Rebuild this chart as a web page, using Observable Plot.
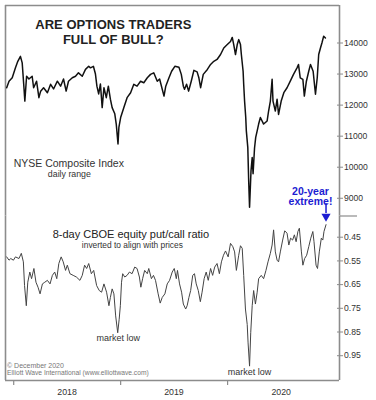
<!DOCTYPE html>
<html><head><meta charset="utf-8">
<script src="https://cdn.jsdelivr.net/npm/d3@7"></script>
<script src="https://cdn.jsdelivr.net/npm/@observablehq/plot@0.6"></script>
<style>
body{margin:0;background:#fff}
#chart{position:relative;width:376px;height:400px;overflow:hidden;background:#fff}
#chart svg{position:absolute;left:0;top:0}
</style></head><body><div id="chart"></div>
<script>
// NYSE Composite Index (approximate daily-range path)
const nyseDates = ["2017-12-08","2017-12-16","2017-12-27","2018-01-07","2018-01-15","2018-01-24","2018-01-30","2018-02-05","2018-02-08","2018-02-14","2018-02-22","2018-03-05","2018-03-10","2018-03-20","2018-03-28","2018-04-03","2018-04-13","2018-04-26","2018-05-07","2018-05-17","2018-05-30","2018-06-10","2018-06-20","2018-06-29","2018-07-07","2018-07-20","2018-07-31","2018-08-10","2018-08-23","2018-09-03","2018-09-14","2018-09-20","2018-09-30","2018-10-07","2018-10-12","2018-10-18","2018-10-24","2018-10-30","2018-11-05","2018-11-13","2018-11-20","2018-11-27","2018-12-03","2018-12-12","2018-12-17","2018-12-23","2018-12-26","2019-01-01","2019-01-12","2019-01-23","2019-02-04","2019-02-15","2019-02-26","2019-03-10","2019-03-21","2019-04-02","2019-04-13","2019-04-24","2019-05-06","2019-05-14","2019-05-23","2019-05-29","2019-06-04","2019-06-15","2019-06-24","2019-07-05","2019-07-19","2019-07-27","2019-08-03","2019-08-07","2019-08-14","2019-08-21","2019-08-30","2019-09-08","2019-09-19","2019-09-25","2019-10-01","2019-10-10","2019-10-24","2019-11-04","2019-11-15","2019-11-26","2019-12-08","2019-12-19","2019-12-31","2020-01-11","2020-01-17","2020-01-22","2020-01-28","2020-02-03","2020-02-08","2020-02-14","2020-02-17","2020-02-23","2020-02-25","2020-02-28","2020-03-03","2020-03-05","2020-03-10","2020-03-13","2020-03-16","2020-03-21","2020-03-25","2020-03-28","2020-04-02","2020-04-06","2020-04-11","2020-04-16","2020-04-22","2020-05-03","2020-05-15","2020-05-20","2020-05-26","2020-06-01","2020-06-04","2020-06-12","2020-06-18","2020-06-23","2020-07-02","2020-07-11","2020-07-22","2020-08-02","2020-08-13","2020-08-25","2020-08-30","2020-09-05","2020-09-14","2020-09-19","2020-09-26","2020-10-04","2020-10-10","2020-10-19","2020-10-27","2020-11-02","2020-11-07","2020-11-13","2020-11-18","2020-11-24","2020-11-30"];
const nyseValues = [12560,12770,12880,13200,13410,13570,13360,12560,12130,12930,12840,12930,12560,12770,12240,12450,12560,12400,12670,12520,12770,12610,12840,12450,12770,12880,12930,13040,12930,13150,13250,13200,13250,13000,12610,12360,12680,11920,12560,12240,12610,12190,11920,11720,11390,10750,11280,11600,11920,12240,12400,12670,12610,12770,12720,12880,12990,13040,12770,12840,12510,12290,12610,12880,13090,13250,13220,12990,12610,12510,12670,12450,12770,13120,13070,12880,12560,12990,13150,13310,13410,13470,13630,13840,13950,14050,14180,13950,13630,13950,14110,13950,13630,13090,12670,12130,11600,11170,10640,9570,8710,9890,10310,9790,10620,10960,11170,11390,11600,11390,11490,11810,12130,12830,12130,11810,12190,11700,12130,12400,12560,12770,12990,13200,13310,12880,12830,12290,12770,13090,13310,13090,12350,12880,13630,13840,14000,14220,14160];

// 8-day CBOE equity put/call ratio (inverted axis)
const ratioDates = ["2017-12-08","2017-12-16","2017-12-22","2017-12-31","2018-01-07","2018-01-19","2018-01-27","2018-02-03","2018-02-07","2018-02-13","2018-02-18","2018-02-25","2018-03-03","2018-03-11","2018-03-18","2018-03-25","2018-04-01","2018-04-09","2018-04-17","2018-04-26","2018-05-05","2018-05-13","2018-05-21","2018-05-28","2018-06-04","2018-06-12","2018-06-19","2018-06-27","2018-07-03","2018-07-12","2018-07-23","2018-08-03","2018-08-15","2018-08-23","2018-08-31","2018-09-07","2018-09-14","2018-09-23","2018-10-01","2018-10-11","2018-10-20","2018-10-28","2018-11-05","2018-11-14","2018-11-22","2018-11-27","2018-12-03","2018-12-09","2018-12-15","2018-12-22","2018-12-27","2018-12-31","2019-01-04","2019-01-08","2019-01-15","2019-01-23","2019-01-31","2019-02-09","2019-02-18","2019-02-26","2019-03-06","2019-03-11","2019-03-17","2019-03-24","2019-04-02","2019-04-07","2019-04-16","2019-04-23","2019-04-30","2019-05-09","2019-05-16","2019-05-23","2019-06-01","2019-06-09","2019-06-17","2019-06-26","2019-07-03","2019-07-10","2019-07-14","2019-07-21","2019-07-28","2019-08-03","2019-08-11","2019-08-16","2019-08-22","2019-08-28","2019-09-04","2019-09-10","2019-09-16","2019-09-23","2019-09-30","2019-10-06","2019-10-13","2019-10-20","2019-10-27","2019-11-04","2019-11-11","2019-11-18","2019-11-26","2019-12-04","2019-12-11","2019-12-18","2019-12-25","2020-01-03","2020-01-11","2020-01-19","2020-01-25","2020-01-31","2020-02-08","2020-02-14","2020-02-20","2020-02-25","2020-03-02","2020-03-08","2020-03-11","2020-03-16","2020-03-20","2020-03-25","2020-03-30","2020-04-05","2020-04-11","2020-04-16","2020-04-25","2020-05-03","2020-05-11","2020-05-18","2020-05-26","2020-06-01","2020-06-06","2020-06-12","2020-06-18","2020-06-23","2020-06-29","2020-07-07","2020-07-14","2020-07-22","2020-07-28","2020-08-03","2020-08-10","2020-08-16","2020-08-22","2020-08-28","2020-09-02","2020-09-09","2020-09-14","2020-09-20","2020-09-27","2020-10-04","2020-10-11","2020-10-18","2020-10-22","2020-10-29","2020-11-03","2020-11-09","2020-11-16","2020-11-21","2020-11-25","2020-12-02"];
const ratioValues = [0.533,0.547,0.540,0.547,0.533,0.540,0.518,0.554,0.654,0.739,0.640,0.597,0.625,0.582,0.640,0.661,0.689,0.647,0.640,0.632,0.647,0.611,0.597,0.625,0.561,0.533,0.554,0.590,0.568,0.604,0.611,0.618,0.632,0.611,0.568,0.582,0.561,0.604,0.590,0.654,0.675,0.682,0.647,0.682,0.739,0.704,0.668,0.689,0.782,0.853,0.796,0.739,0.640,0.604,0.618,0.611,0.597,0.604,0.576,0.582,0.618,0.661,0.625,0.590,0.604,0.582,0.625,0.611,0.632,0.689,0.728,0.704,0.689,0.647,0.632,0.597,0.582,0.625,0.590,0.647,0.682,0.732,0.753,0.739,0.704,0.675,0.611,0.604,0.647,0.675,0.722,0.682,0.625,0.597,0.632,0.582,0.611,0.576,0.561,0.604,0.554,0.526,0.508,0.533,0.476,0.490,0.512,0.590,0.526,0.486,0.497,0.611,0.753,0.818,0.896,0.994,0.853,0.739,0.675,0.732,0.682,0.625,0.611,0.625,0.590,0.554,0.518,0.483,0.419,0.512,0.547,0.554,0.512,0.462,0.423,0.433,0.483,0.454,0.462,0.440,0.469,0.426,0.412,0.512,0.568,0.540,0.526,0.490,0.454,0.426,0.469,0.568,0.582,0.512,0.454,0.462,0.426,0.397];

const nyseTicks = [9000, 10000, 11000, 12000, 13000, 14000];
const ratioTicks = [0.45, 0.55, 0.65, 0.75, 0.85, 0.95];
const yearTicks = ["2018-01-01", "2019-01-01", "2020-01-01"];
const yearLabelDates = ["2018-07-02", "2019-07-02", "2020-07-02"];
const xDomainDates = ["2017-12-04", "2021-01-17"];
const nyseDomain = [8429, 15208];
const ratioDomain = [0.3605, 1.0546];

const parse = d3.utcParse("%Y-%m-%d");
const nyse = nyseDates.map((d, i) => ({date: parse(d), value: nyseValues[i]}));
const ratio = ratioDates.map((d, i) => ({date: parse(d), value: ratioValues[i]}));
const xDomain = xDomainDates.map(parse);
const lastPoint = ratio[ratio.length - 1];

const font = "'Liberation Sans', Arial, Helvetica, sans-serif";
const frameColor = "#8c8c8c";
const blue = "#1c1cd2";
const W = 376, H = 400;
const base = {
  width: W, height: H, marginLeft: 5, marginRight: 37,
  style: {fontFamily: font, fontSize: "9px", background: "transparent", overflow: "visible", color: "#333"},
  x: {type: "utc", domain: xDomain, label: null}
};
const pt = (d, v) => [{date: parse(d), value: v}];

const topPlot = Plot.plot({
  ...base,
  marginTop: 5, marginBottom: H - 215.5,
  x: {...base.x, axis: null},
  y: {domain: nyseDomain, label: null},
  marks: [
    Plot.ruleY([nyseDomain[1]], {stroke: frameColor, strokeWidth: 1.6}),
    Plot.ruleX(xDomain, {stroke: frameColor, strokeWidth: 1.6}),
    Plot.axisY({ticks: nyseTicks, anchor: "right", tickSize: 3, tickPadding: 1.5, tickFormat: "d", stroke: frameColor, fill: "#333", fontSize: 8.6, label: null}),
    Plot.axisY({ticks: nyseTicks, anchor: "right", tickSize: -3, tickFormat: () => "", stroke: frameColor, label: null}),
    Plot.axisY({ticks: [nyseDomain[0]], anchor: "right", tickSize: 17, tickFormat: () => "", stroke: frameColor, strokeWidth: 1.2, label: null}),
    Plot.line(nyse, {x: "date", y: "value", stroke: "#111", strokeWidth: 1.5}),
    Plot.text(pt("2018-12-07", 14375), {x: "date", y: "value", text: () => "ARE OPTIONS TRADERS\nFULL OF BULL?", fontSize: 13, fontWeight: "bold", lineHeight: 1.15, fill: "#222"}),
    Plot.text(pt("2018-07-08", 10112), {x: "date", y: "value", text: () => "NYSE Composite Index", fontSize: 10.5, fill: "#333"}),
    Plot.text(pt("2018-07-10", 9776), {x: "date", y: "value", text: () => "daily range", fontSize: 8.8, fill: "#333"}),
    Plot.text(pt("2020-10-10", 9055), {x: "date", y: "value", text: () => "20-year\nextreme!", fontSize: 10.5, fontWeight: "bold", lineHeight: 1.02, fill: blue})
  ]
});

const bottomPlot = Plot.plot({
  ...base,
  marginTop: 215.5, marginBottom: 20,
  y: {domain: ratioDomain, reverse: true, label: null},
  marks: [
    Plot.ruleY([ratioDomain[1]], {stroke: frameColor, strokeWidth: 1.6}),
    Plot.ruleX(xDomain, {stroke: frameColor, strokeWidth: 1.6}),
    Plot.axisY({ticks: ratioTicks, anchor: "right", tickSize: 3, tickPadding: 1.5, tickFormat: ".2f", stroke: frameColor, fill: "#333", fontSize: 8.6, label: null}),
    Plot.axisY({ticks: ratioTicks, anchor: "right", tickSize: -3, tickFormat: () => "", stroke: frameColor, label: null}),
    Plot.axisX({ticks: yearTicks.map(parse), tickSize: 5, tickFormat: () => "", stroke: frameColor, strokeWidth: 1.2, label: null}),
    Plot.axisX({ticks: yearLabelDates.map(parse), tickSize: 0, tickPadding: 8, tickFormat: "%Y", fill: "#333", fontSize: 8.8, label: null}),
    Plot.line(ratio, {x: "date", y: "value", stroke: "#444", strokeWidth: 1}),
    Plot.text(pt("2019-02-05", 0.439), {x: "date", y: "value", text: () => "8-day CBOE equity put/call ratio", fontSize: 11, fill: "#222"}),
    Plot.text(pt("2019-02-10", 0.485), {x: "date", y: "value", text: () => "inverted to align with prices", fontSize: 8.4, fill: "#333"}),
    Plot.text(pt("2018-12-24", 0.877), {x: "date", y: "value", text: () => "market low", fontSize: 9, fill: "#333"}),
    Plot.text(pt("2020-03-16", 1.021), {x: "date", y: "value", text: () => "market low", fontSize: 9, fill: "#333"}),
    Plot.text(pt("2017-12-04", 0.991), {x: "date", y: "value", text: () => "© December 2020", fontSize: 7, fill: "#777", textAnchor: "start", dx: 1.5}),
    Plot.text(pt("2017-12-04", 1.021), {x: "date", y: "value", text: () => "Elliott Wave International (www.elliottwave.com)", fontSize: 6.7, fill: "#777", textAnchor: "start", dx: 1.5}),
    Plot.ruleX([lastPoint], {x: "date", y1: () => 0.308, y2: () => 0.35, stroke: blue, strokeWidth: 1.5}),
    Plot.dot([lastPoint], {x: "date", y: () => 0.362, symbol: "triangle", r: 3.4, rotate: 180, fill: blue, stroke: "none"})
  ]
});

document.getElementById("chart").append(topPlot, bottomPlot);
</script></body></html>
